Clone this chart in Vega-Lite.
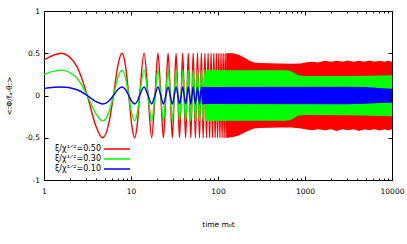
{
 "$schema": "https://vega.github.io/schema/vega-lite/v6.json",
 "width": 348, "height": 169,
 "autosize": "none",
 "padding": {"left": 44, "top": 11, "right": 15, "bottom": 64},
 "datasets": {
  "osc": [
   {"t":1,"r":0.42,"g":0.25,"b":0.084},
   {"t":1.571,"r":0.5,"g":0.3,"b":0.1},
   {"t":2.356,"r":0.354,"g":0.212,"b":0.071},
   {"t":3.142,"r":0,"g":0,"b":0},
   {"t":3.927,"r":-0.354,"g":-0.212,"b":-0.071},
   {"t":4.712,"r":-0.5,"g":-0.3,"b":-0.1},
   {"t":5.498,"r":-0.354,"g":-0.212,"b":-0.071},
   {"t":6.283,"r":0,"g":0,"b":0},
   {"t":7.069,"r":0.354,"g":0.212,"b":0.071},
   {"t":7.854,"r":0.5,"g":0.3,"b":0.1},
   {"t":8.639,"r":0.354,"g":0.212,"b":0.071},
   {"t":9.425,"r":0,"g":0,"b":0},
   {"t":10.21,"r":-0.354,"g":-0.212,"b":-0.071},
   {"t":10.996,"r":-0.5,"g":-0.3,"b":-0.1},
   {"t":11.781,"r":-0.354,"g":-0.212,"b":-0.071},
   {"t":12.566,"r":0,"g":0,"b":0},
   {"t":14.137,"r":0.5,"g":0.3,"b":0.1},
   {"t":15.708,"r":0,"g":0,"b":0},
   {"t":17.279,"r":-0.5,"g":-0.3,"b":-0.1},
   {"t":18.85,"r":0,"g":0,"b":0},
   {"t":20.42,"r":0.5,"g":0.3,"b":0.1},
   {"t":21.991,"r":0,"g":0,"b":0},
   {"t":23.562,"r":-0.5,"g":-0.3,"b":-0.1},
   {"t":25.133,"r":0,"g":0,"b":0},
   {"t":26.704,"r":0.5,"g":0.3,"b":0.1},
   {"t":28.274,"r":0,"g":0,"b":0},
   {"t":29.845,"r":-0.5,"g":-0.3,"b":-0.1},
   {"t":31.416,"r":0,"g":0,"b":0},
   {"t":32.987,"r":0.5,"g":0.3,"b":0.1},
   {"t":34.558,"r":0,"g":0,"b":0},
   {"t":36.128,"r":-0.5,"g":-0.3,"b":-0.1},
   {"t":37.699,"r":0,"g":0,"b":0},
   {"t":39.27,"r":0.5,"g":0.3,"b":0.1},
   {"t":40.841,"r":0,"g":0,"b":0},
   {"t":42.412,"r":-0.5,"g":-0.3,"b":-0.1},
   {"t":43.982,"r":0,"g":0,"b":0},
   {"t":45.553,"r":0.5,"g":0.3,"b":0.1},
   {"t":47.124,"r":0,"g":0,"b":0},
   {"t":48.695,"r":-0.5,"g":-0.3,"b":-0.1},
   {"t":50.265,"r":0,"g":0,"b":0},
   {"t":51.836,"r":0.5,"g":0.3,"b":0.1},
   {"t":53.407,"r":0,"g":0,"b":0},
   {"t":54.978,"r":-0.5,"g":-0.3,"b":-0.1},
   {"t":56.549,"r":0,"g":0,"b":0},
   {"t":58.119,"r":0.5,"g":0.3,"b":0.1},
   {"t":59.69,"r":0,"g":0,"b":0},
   {"t":61.261,"r":-0.5,"g":-0.3,"b":-0.1},
   {"t":62.832,"r":0,"g":0,"b":0},
   {"t":64.403,"r":0.5,"g":0.3,"b":0.1},
   {"t":65.973,"r":0,"g":0,"b":0},
   {"t":67.544,"r":-0.5,"g":-0.3,"b":-0.1},
   {"t":69.115,"r":0,"g":0,"b":0},
   {"t":70.686,"r":0.5,"g":0.3,"b":0.1},
   {"t":72.257,"r":0,"g":0,"b":0},
   {"t":73.827,"r":-0.5,"g":-0.3,"b":-0.1},
   {"t":75.398,"r":0,"g":0,"b":0},
   {"t":76.969,"r":0.5,"g":0.3,"b":0.1},
   {"t":78.54,"r":0,"g":0,"b":0},
   {"t":80.111,"r":-0.5,"g":-0.3,"b":-0.1},
   {"t":81.681,"r":0,"g":0,"b":0},
   {"t":83.252,"r":0.5,"g":0.3,"b":0.1},
   {"t":84.823,"r":0,"g":0,"b":0},
   {"t":86.394,"r":-0.5,"g":-0.3,"b":-0.1},
   {"t":87.965,"r":0,"g":0,"b":0},
   {"t":89.535,"r":0.5,"g":0.3,"b":0.1},
   {"t":91.106,"r":0,"g":0,"b":0},
   {"t":92.677,"r":-0.5,"g":-0.3,"b":-0.1},
   {"t":94.248,"r":0,"g":0,"b":0},
   {"t":95.819,"r":0.5,"g":0.3,"b":0.1},
   {"t":97.389,"r":0,"g":0,"b":0},
   {"t":98.96,"r":-0.5,"g":-0.3,"b":-0.1},
   {"t":100.531,"r":0,"g":0,"b":0},
   {"t":102.102,"r":0.5,"g":0.3,"b":0.1},
   {"t":103.673,"r":0,"g":0,"b":0},
   {"t":105.243,"r":-0.5,"g":-0.3,"b":-0.1},
   {"t":106.814,"r":0,"g":0,"b":0},
   {"t":108.385,"r":0.5,"g":0.3,"b":0.1},
   {"t":109.956,"r":0,"g":0,"b":0},
   {"t":111.527,"r":-0.5,"g":-0.3,"b":-0.1},
   {"t":113.097,"r":0,"g":0,"b":0},
   {"t":114.668,"r":0.5,"g":0.3,"b":0.1},
   {"t":116.239,"r":0,"g":0,"b":0},
   {"t":117.81,"r":-0.5,"g":-0.3,"b":-0.1},
   {"t":119.381,"r":0,"g":0,"b":0},
   {"t":120.951,"r":0.5,"g":0.3,"b":0.1},
   {"t":122.522,"r":0,"g":0,"b":0},
   {"t":124.093,"r":-0.5,"g":-0.3,"b":-0.1},
   {"t":125.664,"r":0,"g":0,"b":0},
   {"t":127.235,"r":0.5,"g":0.3,"b":0.1},
   {"t":128.805,"r":0,"g":0,"b":0},
   {"t":130.376,"r":-0.5,"g":-0.3,"b":-0.1},
   {"t":131.947,"r":0,"g":0,"b":0}
  ],
  "band": [
   {"t":125,"s":"r","lo":-0.5,"hi":0.5},
   {"t":150,"s":"r","lo":-0.49,"hi":0.5},
   {"t":175,"s":"r","lo":-0.47,"hi":0.48},
   {"t":200,"s":"r","lo":-0.44,"hi":0.45},
   {"t":230,"s":"r","lo":-0.41,"hi":0.41},
   {"t":260,"s":"r","lo":-0.39,"hi":0.39},
   {"t":300,"s":"r","lo":-0.385,"hi":0.385},
   {"t":500,"s":"r","lo":-0.38,"hi":0.38},
   {"t":700,"s":"r","lo":-0.38,"hi":0.375},
   {"t":900,"s":"r","lo":-0.39,"hi":0.38},
   {"t":1000,"s":"r","lo":-0.4,"hi":0.39},
   {"t":1200,"s":"r","lo":-0.41,"hi":0.4},
   {"t":1400,"s":"r","lo":-0.4,"hi":0.39},
   {"t":1700,"s":"r","lo":-0.41,"hi":0.41},
   {"t":2000,"s":"r","lo":-0.4,"hi":0.4},
   {"t":2300,"s":"r","lo":-0.42,"hi":0.41},
   {"t":2700,"s":"r","lo":-0.4,"hi":0.4},
   {"t":3100,"s":"r","lo":-0.41,"hi":0.415},
   {"t":3600,"s":"r","lo":-0.4,"hi":0.4},
   {"t":4200,"s":"r","lo":-0.42,"hi":0.41},
   {"t":4800,"s":"r","lo":-0.4,"hi":0.4},
   {"t":5500,"s":"r","lo":-0.41,"hi":0.415},
   {"t":6300,"s":"r","lo":-0.4,"hi":0.4},
   {"t":7200,"s":"r","lo":-0.415,"hi":0.41},
   {"t":8200,"s":"r","lo":-0.4,"hi":0.4},
   {"t":9000,"s":"r","lo":-0.41,"hi":0.41},
   {"t":10000,"s":"r","lo":-0.4,"hi":0.4},
   {"t":72,"s":"g","lo":-0.3,"hi":0.3},
   {"t":600,"s":"g","lo":-0.3,"hi":0.3},
   {"t":680,"s":"g","lo":-0.29,"hi":0.29},
   {"t":750,"s":"g","lo":-0.265,"hi":0.265},
   {"t":830,"s":"g","lo":-0.24,"hi":0.24},
   {"t":1000,"s":"g","lo":-0.23,"hi":0.23},
   {"t":3000,"s":"g","lo":-0.235,"hi":0.23},
   {"t":6000,"s":"g","lo":-0.24,"hi":0.235},
   {"t":10000,"s":"g","lo":-0.245,"hi":0.24},
   {"t":65,"s":"b","lo":-0.1,"hi":0.1},
   {"t":3000,"s":"b","lo":-0.103,"hi":0.105},
   {"t":5000,"s":"b","lo":-0.098,"hi":0.1},
   {"t":7000,"s":"b","lo":-0.09,"hi":0.088},
   {"t":10000,"s":"b","lo":-0.085,"hi":0.08}
  ]
 },
 "layer": [
  {
   "data": {"name": "osc"},
   "transform": [{"fold": ["r", "g", "b"], "as": ["s", "v"]}],
   "mark": {"type": "line", "interpolate": "monotone", "strokeWidth": 1.4, "clip": true},
   "encoding": {
    "x": {"field": "t", "type": "quantitative",
     "scale": {"type": "log", "domain": [1, 10000], "nice": false},
     "axis": {"orient": "bottom", "title": "time m₀t",
      "values": [1,2,3,4,5,6,7,8,9,10,20,30,40,50,60,70,80,90,100,200,300,400,500,600,700,800,900,1000,2000,3000,4000,5000,6000,7000,8000,9000,10000],
      "format": "d",
      "labelExpr": "indexof([1,10,100,1000,10000], datum.value) >= 0 ? datum.label : ''",
      "tickSize": {"condition": {"test": "indexof([1,10,100,1000,10000], datum.value) >= 0", "value": -4}, "value": -2},
      "labelPadding": 11, "titlePadding": 24, "labelFlush": false, "labelOverlap": false}},
    "y": {"field": "v", "type": "quantitative",
     "scale": {"domain": [-1, 1], "nice": false},
     "axis": {"orient": "left", "title": "<:Φ/fₐ-θ:>", "values": [-1, -0.5, 0, 0.5, 1], "format": "~g",
      "labelExpr": "replace(datum.label, '−', '-')", "tickSize": -4, "labelPadding": 8.5, "titlePadding": 11}},
    "color": {"field": "s", "type": "nominal",
     "scale": {"domain": ["r", "g", "b"], "range": ["#ff0000", "#00ff00", "#0000ff"]},
     "legend": {"title": null, "orient": "none", "legendX": 69, "legendY": 134,
      "symbolType": "M-6.5,0H6.5", "symbolSize": 16, "symbolStrokeWidth": 1.5,
      "labelExpr": "datum.value == 'r' ? 'ξ/χ¹ᐟ²=0.50' : datum.value == 'g' ? 'ξ/χ¹ᐟ²=0.30' : 'ξ/χ¹ᐟ²=0.10'",
      "labelAlign": "right", "labelOffset": -20, "labelFontSize": 8, "labelFont": "DejaVu Sans",
      "rowPadding": 2, "padding": 0}}
   }
  },
  {
   "data": {"name": "band"},
   "mark": {"type": "area", "clip": true},
   "encoding": {
    "x": {"field": "t", "type": "quantitative",
     "axis": {"orient": "top", "title": null, "labels": false,
      "values": [1,2,3,4,5,6,7,8,9,10,20,30,40,50,60,70,80,90,100,200,300,400,500,600,700,800,900,1000,2000,3000,4000,5000,6000,7000,8000,9000,10000],
      "tickSize": {"condition": {"test": "indexof([1,10,100,1000,10000], datum.value) >= 0", "value": -4}, "value": -2}}},
    "y": {"field": "lo", "type": "quantitative",
     "axis": {"orient": "right", "title": null, "labels": false, "values": [-1, -0.5, 0, 0.5, 1], "tickSize": -4}},
    "y2": {"field": "hi"},
    "color": {"field": "s", "type": "nominal"}
   }
  }
 ],
 "resolve": {"axis": {"x": "independent", "y": "independent"}},
 "config": {
  "view": {"stroke": "#000", "strokeWidth": 1},
  "axis": {"domainColor": "#000", "tickColor": "#000", "labelColor": "#000", "titleColor": "#000",
   "grid": false, "labelFont": "DejaVu Sans", "titleFont": "DejaVu Sans", "labelFontSize": 7.5,
   "titleFontSize": 7.5, "titleFontWeight": "normal", "tickWidth": 1, "domainWidth": 1},
  "legend": {"labelColor": "#000"}
 }
}
